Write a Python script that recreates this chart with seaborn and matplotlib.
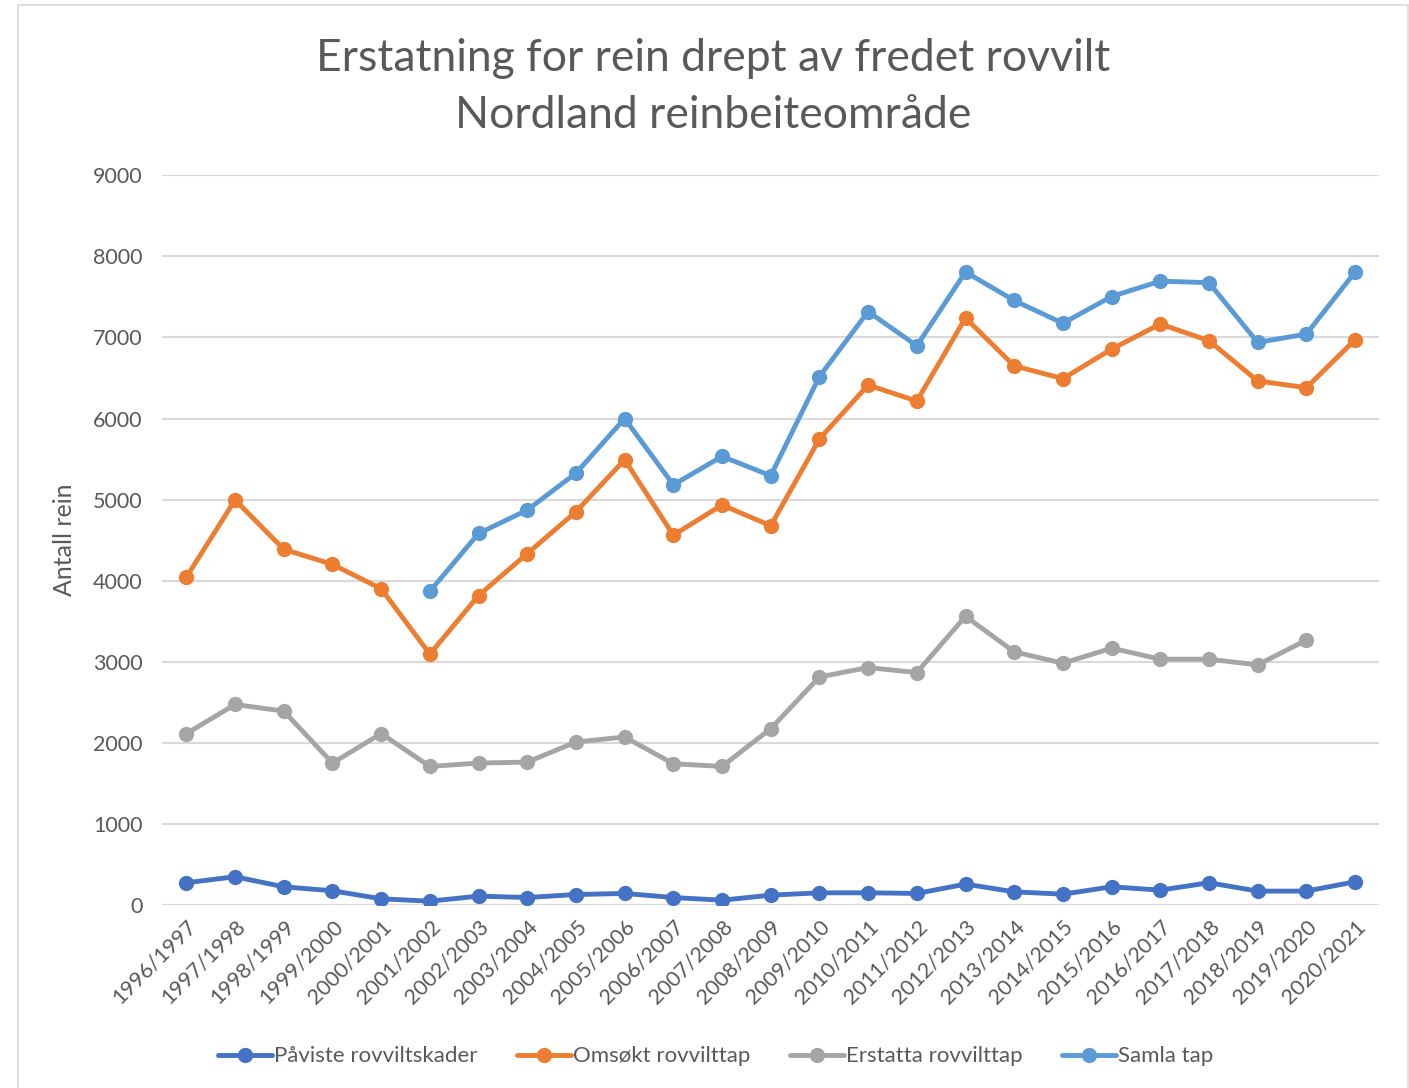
import numpy as np
import pandas as pd
import matplotlib.pyplot as plt
import seaborn as sns
from matplotlib.patches import Rectangle

seasons = ['1996/1997', '1997/1998', '1998/1999', '1999/2000', '2000/2001',
           '2001/2002', '2002/2003', '2003/2004', '2004/2005', '2005/2006',
           '2006/2007', '2007/2008', '2008/2009', '2009/2010', '2010/2011',
           '2011/2012', '2012/2013', '2013/2014', '2014/2015', '2015/2016',
           '2016/2017', '2017/2018', '2018/2019', '2019/2020', '2020/2021']

paviste = [277, 351, 227, 178, 79, 50, 112, 95, 132, 145, 95, 62, 124,
           153, 153, 145, 260, 165, 136, 227, 186, 277, 174, 174, 289]
omsokt = [4045, 4996, 4388, 4202, 3901, 3095, 3818, 4335, 4851, 5492, 4562, 4934, 4678,
          5748, 6413, 6215, 7240, 6649, 6492, 6855, 7165, 6959, 6463, 6380, 6971]
erstatta = [2116, 2475, 2393, 1752, 2116, 1711, 1752, 1764, 2012, 2074, 1744, 1711, 2176,
            2814, 2930, 2868, 3562, 3124, 2983, 3169, 3033, 3033, 2963, 3269, np.nan]
samla = [np.nan, np.nan, np.nan, np.nan, np.nan, 3870, 4583, 4872, 5326, 6000, 5182, 5533, 5295,
         6517, 7318, 6897, 7806, 7455, 7174, 7504, 7694, 7674, 6938, 7041, 7806]

series_names = ['Påviste rovviltskader', 'Omsøkt rovvilttap', 'Erstatta rovvilttap', 'Samla tap']
colors = ['#4472C4', '#ED7D31', '#A5A5A5', '#5B9BD5']

# long format for seaborn
frames = []
for name, vals in zip(series_names, [paviste, omsokt, erstatta, samla]):
    frames.append(pd.DataFrame({'idx': range(len(seasons)), 'antall': vals, 'serie': name}))
df = pd.concat(frames).dropna()

sns.set_style('white')
plt.rcParams['font.family'] = ['Lato', 'DejaVu Sans']
txt = '#595959'

fig = plt.figure(figsize=(14.09, 10.88), dpi=100)
ax = fig.add_axes([0.115, 0.168, 0.864, 0.671])

sns.lineplot(data=df, x='idx', y='antall', hue='serie', hue_order=series_names,
             palette=colors, marker='o', markersize=11, markeredgewidth=0,
             linewidth=3.5, ax=ax, legend=True)

ax.set_xlim(-0.5, len(seasons) - 0.5)
ax.set_ylim(0, 9000)
ax.set_yticks(range(0, 9001, 1000))
ax.set_xticks(range(len(seasons)))
ax.set_xticklabels(seasons, rotation=45, ha='right', rotation_mode='anchor')
ax.tick_params(axis='both', labelsize=15.5, colors=txt, length=0)
ax.tick_params(axis='y', pad=14)
ax.tick_params(axis='x', pad=8)
ax.yaxis.grid(True, color='#D9D9D9', linewidth=1.5)
ax.set_axisbelow(True)
for s in ax.spines.values():
    s.set_visible(False)
ax.axhline(0, color='#D9D9D9', linewidth=1.5, zorder=0)

ax.set_xlabel('')
ax.set_ylabel('Antall rein', fontsize=18, color=txt, labelpad=12)

fig.text(0.506, 0.946, 'Erstatning for rein drept av fredet rovvilt', ha='center', va='center',
         fontsize=32, color=txt)
fig.text(0.506, 0.894, 'Nordland reinbeiteområde', ha='center', va='center',
         fontsize=32, color=txt)

handles, labels = ax.get_legend_handles_labels()
ax.get_legend().remove()
fig.legend(handles, labels, loc='center', bbox_to_anchor=(0.508, 0.029), ncol=4,
           frameon=False, fontsize=16, labelcolor=txt, handlelength=2.4,
           columnspacing=1.8, handletextpad=0.1)

# chart frame
fig.patches.append(Rectangle((0.013, -0.01), 0.986, 1.005, transform=fig.transFigure,
                             fill=False, edgecolor='#D9D9D9', linewidth=1.2))

fig.savefig('out.png', dpi=100)
